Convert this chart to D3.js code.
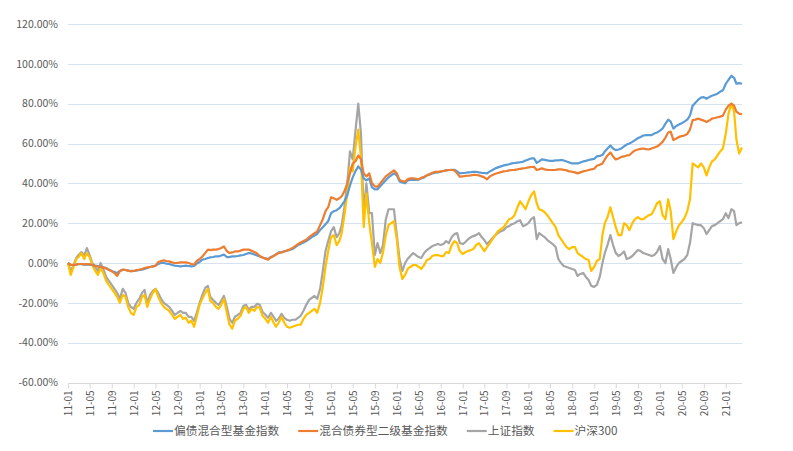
<!DOCTYPE html>
<html><head><meta charset="utf-8">
<script src="https://cdn.jsdelivr.net/npm/d3@7/dist/d3.min.js"></script>
<style>
html,body{margin:0;padding:0;background:#fff;}
svg{display:block;font-family:"Noto Sans CJK SC","Noto Sans",sans-serif;}
</style></head>
<body>
<svg id="chart" width="793" height="451"></svg>
<script>
// Half-monthly dates
const dates = [
"2011-01-01","2011-01-16","2011-02-01","2011-02-16","2011-03-01","2011-03-16","2011-04-01","2011-04-16","2011-05-01","2011-05-16","2011-06-01","2011-06-16","2011-07-01","2011-07-16","2011-08-01","2011-08-16","2011-09-01","2011-09-16","2011-10-01","2011-10-16","2011-11-01","2011-11-16","2011-12-01","2011-12-16",
"2012-01-01","2012-01-16","2012-02-01","2012-02-16","2012-03-01","2012-03-16","2012-04-01","2012-04-16","2012-05-01","2012-05-16","2012-06-01","2012-06-16","2012-07-01","2012-07-16","2012-08-01","2012-08-16","2012-09-01","2012-09-16","2012-10-01","2012-10-16","2012-11-01","2012-11-16","2012-12-01","2012-12-16",
"2013-01-01","2013-01-16","2013-02-01","2013-02-16","2013-03-01","2013-03-16","2013-04-01","2013-04-16","2013-05-01","2013-05-16","2013-06-01","2013-06-16","2013-07-01","2013-07-16","2013-08-01","2013-08-16","2013-09-01","2013-09-16","2013-10-01","2013-10-16","2013-11-01","2013-11-16","2013-12-01","2013-12-16",
"2014-01-01","2014-01-16","2014-02-01","2014-02-16","2014-03-01","2014-03-16","2014-04-01","2014-04-16","2014-05-01","2014-05-16","2014-06-01","2014-06-16","2014-07-01","2014-07-16","2014-08-01","2014-08-16","2014-09-01","2014-09-16","2014-10-01","2014-10-16","2014-11-01","2014-11-16","2014-12-01","2014-12-16",
"2015-01-01","2015-01-16","2015-02-01","2015-02-16","2015-03-01","2015-03-16","2015-04-01","2015-04-16","2015-05-01","2015-05-16","2015-06-01","2015-06-16","2015-07-01","2015-07-16","2015-08-01","2015-08-16","2015-09-01","2015-09-16","2015-10-01","2015-10-16","2015-11-01","2015-11-16","2015-12-01","2015-12-16",
"2016-01-01","2016-01-16","2016-02-01","2016-02-16","2016-03-01","2016-03-16","2016-04-01","2016-04-16","2016-05-01","2016-05-16","2016-06-01","2016-06-16","2016-07-01","2016-07-16","2016-08-01","2016-08-16","2016-09-01","2016-09-16","2016-10-01","2016-10-16","2016-11-01","2016-11-16","2016-12-01","2016-12-16",
"2017-01-01","2017-01-16","2017-02-01","2017-02-16","2017-03-01","2017-03-16","2017-04-01","2017-04-16","2017-05-01","2017-05-16","2017-06-01","2017-06-16","2017-07-01","2017-07-16","2017-08-01","2017-08-16","2017-09-01","2017-09-16","2017-10-01","2017-10-16","2017-11-01","2017-11-16","2017-12-01","2017-12-16",
"2018-01-01","2018-01-16","2018-02-01","2018-02-16","2018-03-01","2018-03-16","2018-04-01","2018-04-16","2018-05-01","2018-05-16","2018-06-01","2018-06-16","2018-07-01","2018-07-16","2018-08-01","2018-08-16","2018-09-01","2018-09-16","2018-10-01","2018-10-16","2018-11-01","2018-11-16","2018-12-01","2018-12-16",
"2019-01-01","2019-01-16","2019-02-01","2019-02-16","2019-03-01","2019-03-16","2019-04-01","2019-04-16","2019-05-01","2019-05-16","2019-06-01","2019-06-16","2019-07-01","2019-07-16","2019-08-01","2019-08-16","2019-09-01","2019-09-16","2019-10-01","2019-10-16","2019-11-01","2019-11-16","2019-12-01","2019-12-16",
"2020-01-01","2020-01-16","2020-02-01","2020-02-16","2020-03-01","2020-03-16","2020-04-01","2020-04-16","2020-05-01","2020-05-16","2020-06-01","2020-06-16","2020-07-01","2020-07-16","2020-08-01","2020-08-16","2020-09-01","2020-09-16","2020-10-01","2020-10-16","2020-11-01","2020-11-16","2020-12-01","2020-12-16",
"2021-01-01","2021-01-16","2021-02-01","2021-02-16","2021-03-01","2021-03-16","2021-04-01"
];

// 偏债混合型基金指数 (%)
const balancedDebt = [
0,-1,-1,-0.8,-0.5,-0.6,-0.8,-0.8,-0.8,-1,-1.3,-1.5,-2,-2.2,-2.5,-3.3,-4,-4.5,-5,-4,-3.5,-3.5,-3.8,-4,
-4,-3.8,-3.5,-3.3,-3,-2.5,-2,-1.7,-1.3,-0.5,0,0,-0.3,-0.5,-1,-1.3,-1.5,-1.7,-1.5,-1.3,-1.5,-1.7,-1.5,-0.3,
0.5,1.7,2,2.5,2.8,3,3.3,3.3,3.8,4.2,3,3,3.3,3.3,3.5,3.8,4,4.5,5,4.8,4.3,3.8,3.3,2.8,
2.3,2,3,3.6,4.3,5.3,5.5,5.8,6.2,6.6,7,8,9,9.6,10.3,11,12,13,13.8,14.7,16.5,18,19.5,21,
25,26,26.5,27.5,29,31,34,39,43,46,48.5,47,42.5,41.5,42.5,38,37,37,38.5,40,41.5,43,44,45,
44,41,40.5,40,41.5,41.7,41.7,41.7,41.8,42.5,43,44,44.5,45,45.3,45.5,45.8,46.2,46.5,46.7,46.8,46.8,46,45,
45.2,45.3,45.5,45.6,45.8,45.8,45.5,45.3,45.2,45,46,46.7,47.5,48,48.5,49,49.3,49.6,50,50.2,50.4,50.6,50.8,51.5,
52,52.5,52.5,50.3,51,52,51.8,51.5,51.3,51.3,51.5,51.5,51.7,51.5,51,50.5,50,50,50,50.5,51,51.3,51.7,52,
52.3,53.5,53.8,54.2,56,57.5,59,57.5,56.7,57,57.5,58.5,59.5,60,60.8,61.7,62.7,63.3,64,64.2,64.2,64.2,65,65.5,
66.5,67.5,70,72,71,67.5,68.8,69.5,70.2,71,72,74,79,80.5,82,83,83.3,82.5,83.3,84,84.5,85,86,86.7,
90,92,94,93,90,90.3,90
];

// 混合债券型二级基金指数 (%)
const secondaryBond = [
0,-1,-1,-0.8,-0.5,-0.5,-0.7,-0.5,-0.7,-1,-1.5,-1.7,-2,-2.3,-2.7,-3.5,-4.2,-5,-6.5,-4,-3.3,-3.5,-3.8,-4.2,
-4,-3.5,-3.3,-3,-2.5,-2.2,-2,-1.7,-1.5,0.5,1,1.3,1,0.8,0.3,0,0,0.3,0.3,0.3,0,-0.5,-0.8,1,
2,3.3,5,6.7,6.5,6.7,6.7,7,7.5,8.3,6,5,5.3,5.8,5.8,6.2,6.7,6.7,6.7,6.2,5.5,4.8,3.5,2.8,
2.2,1.7,2.8,3.5,4.3,5,5.3,5.8,6.3,6.8,7.5,8.5,9.5,10.3,11,11.7,13,14,15,15.8,19,22,26,28,
33,32.5,31.7,32.5,33.5,36,40,45,50,51,54,52,45,43.5,45,40,38.5,38.3,40,41.7,43.5,44.5,45.5,46.5,
45,41.7,41.2,40.8,42,42.5,42.5,42.3,42,42.8,43.3,44,44.5,45.3,45.8,45.8,46,46.2,46.5,46.7,46.7,46.5,45,43.3,
43.5,43.7,43.8,44,44.2,44.2,44,43.5,43,42,43.5,44.2,44.8,45.2,45.6,46,46.2,46.5,46.7,46.8,47,47.3,47.5,47.7,
48,48.2,48.3,46.7,47,47.5,47,46.8,46.7,46.7,46.8,47,47,46.8,46.5,46,45.8,45.5,45,45.5,46,46.3,46.7,47,
47.3,48.8,49.3,50,52,54,55.5,53.5,52,52.5,53.3,53.5,54,54.2,55.5,56.5,57,57.3,57.5,57.2,57,57.5,58,58.5,
59.5,60.8,63,65.5,66,61.7,62.5,63.3,63.7,64,64.8,67,71.7,72,72.5,72,71.5,70.8,71.5,72.5,72.8,73.2,73.5,74,
77,79,80,79,76,75,74.7
];

// 上证指数 (%)
const shanghai = [
0,-4,-1,2.5,4,5.5,4,7.5,4,0,-2,-4,0,-3,-7,-9,-11,-13,-15,-18,-13,-15,-20,-22,
-23,-20,-18,-15,-13.5,-20,-16,-14,-13,-15,-18,-20,-21,-22,-24,-26,-25,-24,-25,-25,-27,-27,-29,-25,
-20,-16,-12.5,-11.5,-17,-18.5,-20,-21,-19,-16.5,-22,-28,-30,-27,-26,-25,-21.5,-21,-23.5,-22,-22,-20.5,-21,-24.5,
-26,-27.5,-25,-27,-29,-28,-25.5,-27.5,-28.5,-29,-28.5,-28.5,-27.5,-26.5,-24,-21,-18.5,-17.5,-16.5,-18,-13,-4,6,11,
16,18,13,15,19,28,40,56,52,66,80,65,25,40,25,25,4,10,5,9,22,27,27,27,
14,2,-4,0,2,3.5,5,4,3,2.5,5,6.5,7.5,8.5,9,9.5,9,9.5,11,10,13,14.5,15,10,
9.5,10.5,12,13,13.5,14,15,13,11.5,9.5,11,12.5,14,15,16,16.5,18,18.5,19.5,20,21,21.5,18.5,19,
20,22,23,12,15,14,13,11.5,10.5,9.5,8,2,0,-1.5,-2,-2.5,-3,-3.5,-6.5,-5.5,-5,-7,-8.5,-11.5,
-12,-11,-7,0,5,9,14,9,5,3.5,4.5,5.8,2,2.5,3.5,5,6.5,6,5,4.5,4,3.5,4,5.5,
8.5,2,0,7,2,-5,-2,0,1,2,4,10,20,19.5,19,19,17.5,14.5,16.5,18.5,19,20,21,22,
25,22.5,27,26,19,20,20.5
];

// 沪深300 (%)
const csi300 = [
0,-6,-2,2,3,5,2,5,3,-1,-4,-6,-2.5,-5,-9,-11,-13,-15,-17,-20,-16,-17,-22,-25,
-26,-22,-21,-17,-16,-22,-18,-15,-13,-17,-20,-22,-23,-24,-26,-28,-27,-26,-28,-27.5,-30,-29,-32,-27,
-21,-18,-15,-13,-19,-20,-22,-23,-21,-18,-25,-31,-33,-29,-28,-26.5,-23,-22,-25,-23,-24,-22,-22.5,-26.5,
-28,-30,-27,-30,-32,-30,-27,-30,-32,-32.5,-32,-31.5,-31,-31,-28,-26,-25,-24,-23,-25,-20,-12,-2,6,
13,14,9,11,15,24,35,48,46,58,67,53,18,35,20,10,-2,2,0,5,14,19,20,21,
12,-2,-8,-6,-3,-2,-1,-1,-2,-3,-1,1.5,2,3.5,4,4,3.5,3.5,5.5,5,9,11,10,6,
4.5,5.5,6,6.5,7,9,10,8,6,8,10,12,14,16,17,18,20,22,22.5,24,28,31,29,27,
31,34,36,30,27,26.5,25.5,24,22,20,18,14,12,10,8,7,8,8,5,4,3,2,1.5,-4,
-2,1,2,14,20,23,28,23,18,14,14,20,19,16.5,20,22,23,22,22,23,24,24.5,27,30,
31,24,22,32,26,12,16,19,20.5,22.5,26,32,50,49,48,50,48,44,48,51,52,54,56,57.5,
65,75,80,76,62,55,58
];

const seriesNames = ["偏债混合型基金指数","混合债券型二级基金指数","上证指数","沪深300"];
const seriesColors = ["#5B9BD5","#ED7D31","#A5A5A5","#FFC000"];
const seriesValues = [balancedDebt, secondaryBond, shanghai, csi300];

const yTicks = [-60,-40,-20,0,20,40,60,80,100,120];
const xTickDates = ["2011-01-01","2011-05-01","2011-09-01","2012-01-01","2012-05-01","2012-09-01","2013-01-01","2013-05-01","2013-09-01","2014-01-01","2014-05-01","2014-09-01","2015-01-01","2015-05-01","2015-09-01","2016-01-01","2016-05-01","2016-09-01","2017-01-01","2017-05-01","2017-09-01","2018-01-01","2018-05-01","2018-09-01","2019-01-01","2019-05-01","2019-09-01","2020-01-01","2020-05-01","2020-09-01","2021-01-01"];

(function(){
const parse = d3.timeParse("%Y-%m-%d");
const dateObjs = dates.map(parse);

const svg = d3.select("#chart");
const pL = 68, pR = 742, pT = 24, pB = 382.5;

const x = d3.scaleTime().domain([dateObjs[0], dateObjs[dateObjs.length-1]]).range([pL, pR]);
const y = d3.scaleLinear().domain([-60,120]).range([pB, pT]);

// gridlines
svg.append("g").selectAll("line").data(yTicks.filter(t=>t!==-60)).join("line")
  .attr("x1", pL).attr("x2", pR)
  .attr("y1", d=>Math.round(y(d))+0.5).attr("y2", d=>Math.round(y(d))+0.5)
  .attr("stroke", "#D6E2F0").attr("stroke-width", 1);

// y labels
svg.append("g").selectAll("text").data(yTicks).join("text")
  .attr("x", 58).attr("y", d=>y(d)).attr("dy","0.35em")
  .attr("text-anchor","end").attr("font-size", "10.5px").attr("fill","#595959")
  .text(d=>d.toFixed(2)+"%");

// x axis
const xAxis = d3.axisBottom(x).tickValues(xTickDates.map(parse)).tickSize(5).tickFormat(d3.timeFormat("%y-%m"));
const gx = svg.append("g").attr("transform", `translate(0,${Math.round(pB)+0.5})`).call(xAxis);
gx.select(".domain").attr("stroke","#D9D9D9").attr("d", `M${pL},0H${pR}`);
gx.selectAll(".tick line").attr("stroke","#D9D9D9");
gx.selectAll(".tick text")
  .attr("transform","rotate(-90)")
  .attr("text-anchor","end")
  .attr("x", -7).attr("y", 0).attr("dy","0.35em")
  .attr("font-size","10px").attr("fill","#595959")
  .attr("font-family", '"Noto Sans CJK SC","Noto Sans",sans-serif');

// lines
const line = d3.line().x((d,i)=>x(dateObjs[i])).y(d=>y(d)).curve(d3.curveLinear);
const order = [2,3,0,1];
order.forEach(k=>{
  svg.append("path").datum(seriesValues[k])
    .attr("d", line).attr("fill","none")
    .attr("stroke", seriesColors[k]).attr("stroke-width", 2.2)
    .attr("stroke-linejoin","round");
});

// legend
const lg = svg.append("g");
let cx = 153;
seriesNames.forEach((name,k)=>{
  lg.append("line").attr("x1",cx).attr("x2",cx+20).attr("y1",431).attr("y2",431)
    .attr("stroke",seriesColors[k]).attr("stroke-width",2.2);
  const t = lg.append("text").attr("x",cx+21).attr("y",431).attr("dy","0.35em")
    .attr("font-size","11.7px").attr("fill","#595959").text(name);
  const w = t.node().getComputedTextLength();
  cx = cx + 21 + w + 19;
});
})();
</script>
</body></html>
